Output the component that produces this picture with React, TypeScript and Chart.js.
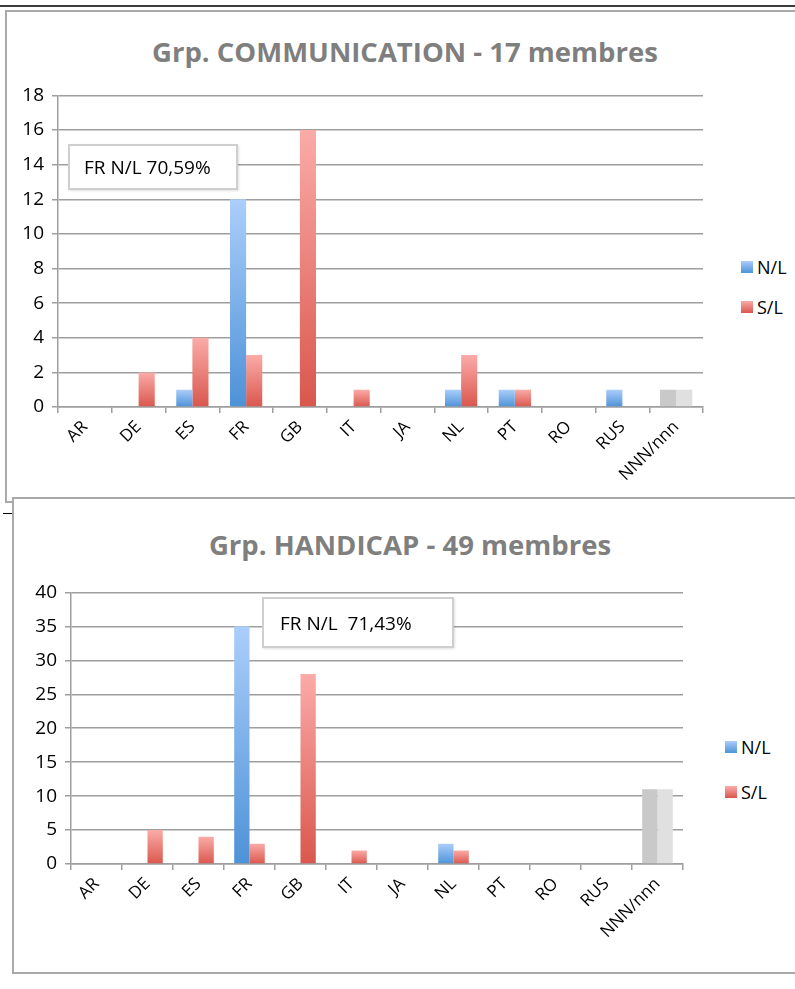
import React, { useEffect, useRef } from "react";
import { Chart, registerables } from "chart.js";
Chart.register(...registerables);

const categories = ["AR", "DE", "ES", "FR", "GB", "IT", "JA", "NL", "PT", "RO", "RUS", "NNN/nnn"];
const seriesNames = ["N/L", "S/L"];
const commNL = [0, 0, 1, 12, 0, 0, 0, 1, 1, 0, 1, 1];
const commSL = [0, 2, 4, 3, 16, 1, 0, 3, 1, 0, 0, 1];
const handNL = [0, 0, 0, 35, 0, 0, 0, 3, 0, 0, 0, 11];
const handSL = [0, 5, 4, 3, 28, 2, 0, 2, 0, 0, 0, 11];
const commAxis = [0, 18, 2];
const handAxis = [0, 40, 5];
const commTitle = "Grp. COMMUNICATION - 17 membres";
const handTitle = "Grp. HANDICAP - 49 membres";
const commNote = "FR N/L 70,59%";
const handNote = "FR N/L\u00a0\u00a071,43%";

const FONT = "'Open Sans', 'Noto Sans', sans-serif";
const GRID = "#9e9e9e";
const BLUE_TOP = "#abcefb";
const BLUE_BOT = "#4d92d7";
const RED_TOP = "#fbaba8";
const RED_BOT = "#d9574d";
const GREY_A = "#c9c9c9";
const GREY_B = "#e0e0e0";

function grad(top: string, bottom: string, grey: string) {
  return (ctx: any) => {
    const chart = ctx.chart;
    const i = ctx.dataIndex;
    if (i === categories.length - 1) return grey;
    const y = chart.scales && chart.scales.y;
    if (!y || !chart.chartArea || ctx.raw == null || i == null) return bottom;
    const t = y.getPixelForValue(ctx.raw);
    const b = y.getPixelForValue(0);
    if (!isFinite(t) || !isFinite(b) || b - t < 1) return bottom;
    const g = chart.ctx.createLinearGradient(0, t, 0, b);
    g.addColorStop(0, top);
    g.addColorStop(1, bottom);
    return g;
  };
}

type BCProps = {
  nl: number[];
  sl: number[];
  axis: number[];
  yWidth: number;
  left: number;
  top: number;
  width: number;
  height: number;
};

function BarChart({ nl, sl, axis, yWidth, left, top, width, height }: BCProps) {
  const ref = useRef<HTMLCanvasElement | null>(null);
  useEffect(() => {
    if (!ref.current) return;
    const chart = new Chart(ref.current, {
      type: "bar",
      data: {
        labels: categories,
        datasets: [
          {
            label: seriesNames[0],
            data: nl,
            backgroundColor: grad(BLUE_TOP, BLUE_BOT, GREY_A),
            borderWidth: 0,
            categoryPercentage: 0.6,
            barPercentage: 1.0,
          },
          {
            label: seriesNames[1],
            data: sl,
            backgroundColor: grad(RED_TOP, RED_BOT, GREY_B),
            borderWidth: 0,
            categoryPercentage: 0.6,
            barPercentage: 1.0,
          },
        ],
      },
      options: {
        animation: false,
        responsive: false,
        layout: { padding: { left: 10, top: 10, right: 7, bottom: 0 } },
        plugins: {
          legend: { display: false },
          title: { display: false },
          tooltip: { enabled: false },
        },
        scales: {
          x: {
            grid: {
              display: true,
              drawOnChartArea: false,
              drawTicks: true,
              tickLength: 6,
              color: GRID,
              lineWidth: 1.5,
              offset: true,
            },
            border: { display: true, color: GRID, width: 1.5 },
            ticks: {
              maxRotation: 45,
              minRotation: 45,
              autoSkip: false,
              padding: 4,
              color: "#000",
              font: { family: FONT, size: 17 },
            },
            afterFit: (s: any) => {
              s.height = 80;
            },
          },
          y: {
            min: axis[0],
            max: axis[1],
            ticks: {
              stepSize: axis[2],
              padding: 8,
              color: "#000",
              font: { family: FONT, size: 19 },
            },
            grid: { color: GRID, lineWidth: 1.5, tickLength: 6 },
            border: { display: true, color: GRID, width: 1.5 },
            afterFit: (s: any) => {
              s.width = yWidth;
            },
          },
        },
      },
    } as any);
    return () => chart.destroy();
  }, []);
  return (
    <canvas
      ref={ref}
      width={width}
      height={height}
      style={{ position: "absolute", left, top, width, height }}
    />
  );
}

function Legend({ left, top, gap }: { left: number; top: number; gap: number }) {
  const items = [
    { name: seriesNames[0], c1: BLUE_TOP, c2: BLUE_BOT },
    { name: seriesNames[1], c1: RED_TOP, c2: RED_BOT },
  ];
  return (
    <>
      {items.map((it, k) => (
        <div
          key={it.name}
          style={{
            position: "absolute",
            left,
            top: top + k * gap,
            display: "flex",
            alignItems: "center",
            fontFamily: FONT,
            fontSize: 18,
            color: "#000",
            lineHeight: "22px",
          }}
        >
          <span
            style={{
              display: "inline-block",
              width: 12,
              height: 12,
              background: `linear-gradient(${it.c1}, ${it.c2})`,
              marginRight: 4,
            }}
          />
          <span>{it.name}</span>
        </div>
      ))}
    </>
  );
}

function Note({ left, top, width, height, text, pad }: any) {
  return (
    <div
      style={{
        position: "absolute",
        left,
        top,
        width,
        height,
        boxSizing: "border-box",
        border: "2px solid #cfcfcf",
        background: "#fff",
        fontFamily: FONT,
        fontSize: 19,
        color: "#000",
        display: "flex",
        alignItems: "center",
        paddingLeft: pad,
        whiteSpace: "nowrap",
        boxShadow: "1px 1px 2px rgba(0,0,0,0.12)",
      }}
    >
      {text}
    </div>
  );
}

function Title({ cx, cy, text }: { cx: number; cy: number; text: string }) {
  return (
    <div
      style={{
        position: "absolute",
        left: cx - 300,
        top: cy - 20,
        width: 600,
        height: 40,
        lineHeight: "40px",
        textAlign: "center",
        fontFamily: FONT,
        fontWeight: 700,
        fontSize: 27.5,
        color: "#7f7f7f",
        whiteSpace: "nowrap",
      }}
    >
      {text}
    </div>
  );
}

export default function App() {
  return (
    <div
      style={{
        position: "absolute",
        left: 0,
        top: 0,
        width: 795,
        height: 989,
        overflow: "hidden",
        background: "#fff",
      }}
    >
      <div style={{ position: "absolute", left: 0, top: 5, width: 795, height: 2, background: "#3a3a3a" }} />
      <div
        style={{
          position: "absolute",
          left: 5,
          top: 10,
          width: 820,
          height: 493,
          boxSizing: "border-box",
          border: "2px solid #a9a9a9",
          background: "#fff",
        }}
      />
      <Title cx={405} cy={52} text={commTitle} />
      <BarChart nl={commNL} sl={commSL} axis={commAxis} yWidth={48} left={0} top={76} width={710} height={411} />
      <Note left={68} top={144} width={170} height={46} text={commNote} pad={14} />
      <Legend left={741} top={256} gap={40} />

      <div style={{ position: "absolute", left: 3, top: 513, width: 10, height: 1, background: "#000" }} />
      <div
        style={{
          position: "absolute",
          left: 12,
          top: 497,
          width: 820,
          height: 477,
          boxSizing: "border-box",
          border: "2px solid #a9a9a9",
          background: "#fff",
        }}
      />
      <Title cx={410} cy={545} text={handTitle} />
      <BarChart nl={handNL} sl={handSL} axis={handAxis} yWidth={61} left={0} top={573} width={690} height={371} />
      <Note left={262} top={597} width={192} height={51} text={handNote} pad={16} />
      <Legend left={725} top={736} gap={45} />
    </div>
  );
}
